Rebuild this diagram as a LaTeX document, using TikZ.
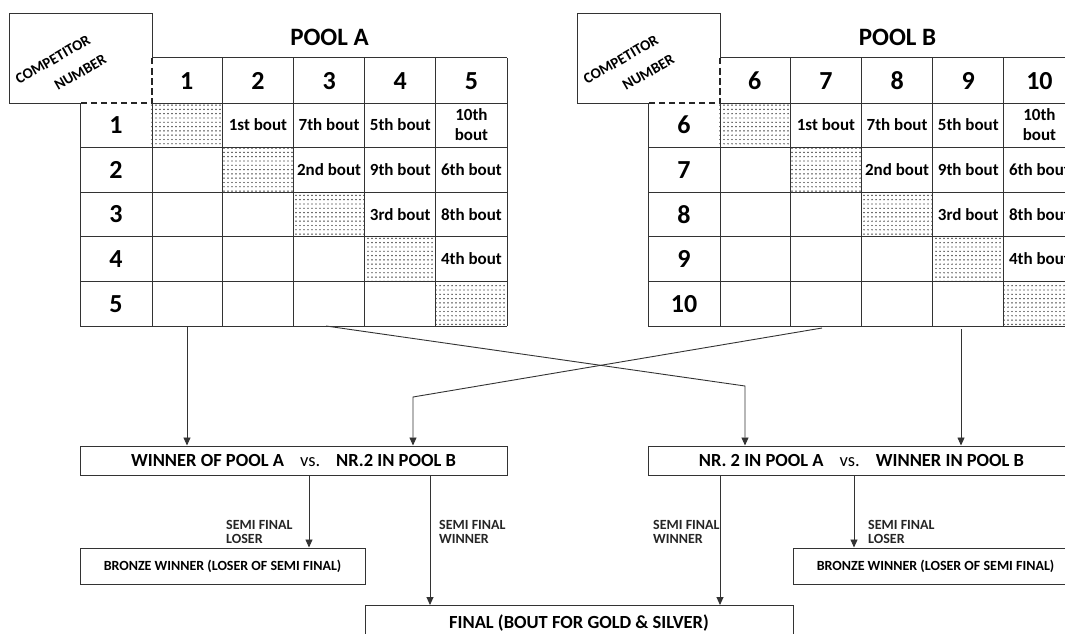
\documentclass[tikz,border=0pt]{standalone}
\usepackage{fontspec}
\setmainfont{Carlito}
\usetikzlibrary{patterns,arrows.meta}
\pgfdeclarepatternformonly{finedots}{\pgfqpoint{-1pt}{-1pt}}{\pgfqpoint{1pt}{1pt}}{\pgfqpoint{4pt}{4.3pt}}{%
  \pgfpathcircle{\pgfqpoint{0pt}{0pt}}{0.7pt}\pgfusepath{fill}}
\begin{document}
\begin{tikzpicture}[x=1pt,y=-1pt,
  gl/.style={line width=1pt,draw=black!80},
  dgl/.style={line width=1.6pt,draw=black!85,dash pattern=on 6.5pt off 3.5pt},
  dotfill/.style={pattern=finedots,pattern color=black},
  numtxt/.style={font=\fontsize{26}{26}\selectfont\bfseries,inner sep=0pt},
  titletxt/.style={font=\fontsize{25}{25}\selectfont\bfseries,inner sep=0pt},
  bouttxt/.style={font=\fontsize{17}{20}\selectfont\bfseries,align=center,inner sep=0pt},
  cntxt/.style={font=\fontsize{15}{15}\selectfont\bfseries,rotate=30,inner sep=0pt,anchor=base west},
  bigbox/.style={gl,rectangle,inner sep=0pt,minimum width=427pt,minimum height=29pt,font=\fontsize{18.5}{18.5}\selectfont\bfseries},
  smallbox/.style={gl,rectangle,inner sep=0pt,minimum width=285pt,minimum height=36pt,font=\fontsize{14}{14}\selectfont\bfseries},
  finalbox/.style={gl,rectangle,inner sep=0pt,minimum width=428pt,minimum height=36pt,font=\fontsize{18.5}{18.5}\selectfont\bfseries},
  lab/.style={font=\fontsize{14}{14}\selectfont\bfseries,align=left,anchor=west,inner sep=0pt,text=black!85},
  arr/.style={line width=0.9pt,draw=black!80,-{Triangle[length=8pt,width=7pt]}},
]
\useasboundingbox (0,0) rectangle (1065,634);
\fill[white] (0,0) rectangle (1065,634);

\foreach \p/\dx/\ttl/\first in {A/0/POOL A/1, B/568/POOL B/6}{
\begin{scope}[xshift=\dx pt]
  % shaded diagonal
  \foreach \i in {1,...,5}
    \fill[dotfill] ({80+71.17*\i},{58+44.67*\i}) rectangle ({80+71.17*(\i+1)},{58+44.67*(\i+1)});
  % competitor number box
  \draw[gl] (152,58) -- (152,14) -- (9,14) -- (9,103) -- (80,103);
  \draw[dgl] (152,58) -- (152,103) -- (80,103);
  % grid
  \draw[gl] (152,58) -- (507,58);
  \draw[gl] (152,103) -- (507,103);
  \foreach \i in {2,...,6} \draw[gl] (80,{58+44.67*\i}) -- (507,{58+44.67*\i});
  \draw[gl] (80,103) -- (80,326);
  \draw[gl] (152,103) -- (152,326);
  \foreach \j in {2,...,6} \draw[gl] ({80+71.17*\j},58) -- ({80+71.17*\j},326);
  % title
  \node[titletxt] (\p-title) at (329.5,37) {\ttl};
  \node[cntxt] (\p-cn1) at (19,85) {COMPETITOR};
  \node[cntxt] (\p-cn2) at (58,91) {NUMBER};
  % numbers
  \foreach \j in {1,...,5}{
    \pgfmathtruncatemacro\lbl{\first+\j-1}
    \node[numtxt] (\p-h\j) at ({80+71.17*\j+35.58},80.8) {\lbl};
    \node[numtxt] (\p-r\j) at (116,{58+44.67*\j+22.33}) {\lbl};
  }
  % bouts
  \foreach \i/\j/\t in {1/2/1st bout,1/3/7th bout,1/4/5th bout,1/5/{10th\\bout},
                         2/3/2nd bout,2/4/9th bout,2/5/6th bout,
                         3/4/3rd bout,3/5/8th bout,4/5/4th bout}
    \node[bouttxt] (\p-c\i\j) at ({80+71.17*\j+35.58},{58+44.67*\i+22.33}) {\t};
\end{scope}}

% semi-final boxes
\node[bigbox] (sf1) at (293.5,460.5) {WINNER OF POOL A\hspace{16pt}{\mdseries vs.}\hspace{16pt}NR.2 IN POOL B};
\node[bigbox] (sf2) at (861.5,460.5) {NR. 2 IN POOL A\hspace{16pt}{\mdseries vs.}\hspace{16pt}WINNER IN POOL B};
\node[smallbox] (br1) at (222.5,566) {BRONZE WINNER (LOSER OF SEMI FINAL)};
\node[smallbox] (br2) at (935.5,566) {BRONZE WINNER (LOSER OF SEMI FINAL)};
\node[finalbox] (fin) at (579,623.5) {FINAL (BOUT FOR GOLD \& SILVER)};

% connectors from pools
\coordinate (A-out1) at (187,327);
\coordinate (A-out2) at (326,326);
\coordinate (B-out2) at (822,328);
\coordinate (B-out1) at (961,329);
\coordinate (kA) at (745,386);
\coordinate (kB) at (413,397);
\draw[arr] (A-out1) -- (A-out1 |- sf1.north);
\draw[arr] (A-out2) -- (kA) -- (kA |- sf2.north);
\draw[arr] (B-out2) -- (kB) -- (kB |- sf1.north);
\draw[arr] (B-out1) -- (B-out1 |- sf2.north);

% semi-final outcomes
\coordinate (x1) at (309,0);
\coordinate (x2) at (430,0);
\coordinate (x3) at (720,0);
\coordinate (x4) at (854,0);
\draw[arr] (x1 |- sf1.south) -- (x1 |- br1.north);
\draw[arr] (x2 |- sf1.south) -- (x2 |- fin.north);
\draw[arr] (x3 |- sf2.south) -- (x3 |- fin.north);
\draw[arr] (x4 |- sf2.south) -- (x4 |- br2.north);

\node[lab] (l1) at (226,532) {SEMI FINAL\\LOSER};
\node[lab] (l2) at (439,532) {SEMI FINAL\\WINNER};
\node[lab] (l3) at (653,532) {SEMI FINAL\\WINNER};
\node[lab] (l4) at (868,532) {SEMI FINAL\\LOSER};
\end{tikzpicture}
\end{document}
